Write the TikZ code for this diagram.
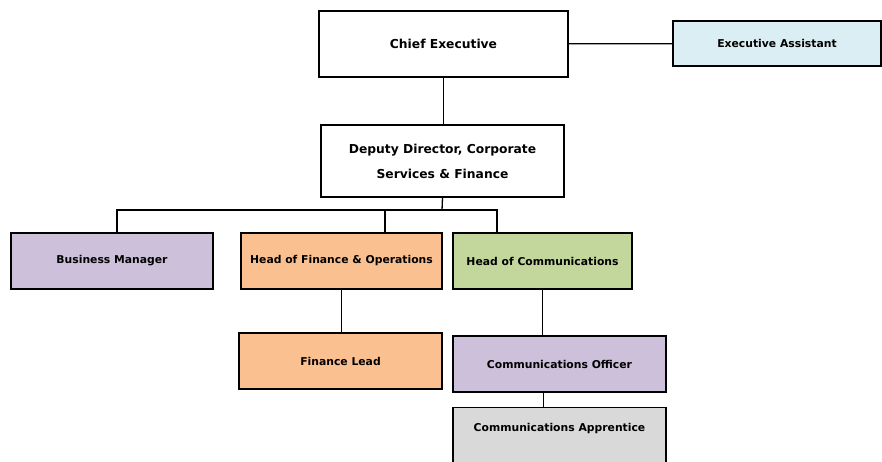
\documentclass[tikz,border=0pt]{standalone}
\usepackage{fontspec}
\setmainfont{DejaVu Sans}
\usetikzlibrary{positioning}

\definecolor{rolepurple}{HTML}{CCC0DA}
\definecolor{roleorange}{HTML}{FAC090}
\definecolor{rolegreen}{HTML}{C3D69B}
\definecolor{roleblue}{HTML}{DBEEF4}
\definecolor{rolegray}{HTML}{D9D9D9}

\begin{document}
\begin{tikzpicture}[
      x=1pt, y=-1pt,
      role/.style={
         rectangle,
         draw=black,
         line width=1.3pt,
         fill=white,
         inner sep=0pt,
         align=center,
         font=\bfseries\fontsize{10.8}{25}\selectfont},
      toprole/.style={role,font=\bfseries\fontsize{12.3}{25}\selectfont},
      link/.style={line width=1.3pt},
      ]
      \useasboundingbox (0,0) rectangle (882,461);

      \node[toprole,minimum width=249pt,minimum height=66pt] (ce) at (443.5,44) {Chief Executive};
      \node[role,fill=roleblue,minimum width=208pt,minimum height=45pt] (ea) at (777,43.5) {Executive Assistant};
      \node[toprole,minimum width=243pt,minimum height=72pt] (dd) at (442.5,161)
         {Deputy Director, Corporate\\Services \& Finance};
      \node[role,fill=rolepurple,minimum width=202pt,minimum height=56pt] (bm) at (112,261) {Business Manager};
      \node[role,fill=roleorange,minimum width=201pt,minimum height=56pt] (hfo) at (341.5,261) {Head of Finance \& Operations};
      \node[role,fill=rolegreen,minimum width=179pt,minimum height=56pt] (hc) at (542.5,261) {Head of Communications};
      \node[role,fill=roleorange,minimum width=203pt,minimum height=56pt] (fl) at (340.5,361) {Finance Lead};
      \node[role,fill=rolepurple,minimum width=213pt,minimum height=56pt] (co) at (559.5,364) {Communications Officer};
      % apprentice box runs off the bottom edge
      \node[role,fill=rolegray,minimum width=213pt,text height=24pt,text depth=32pt,anchor=north] (ca) at (559.5,407)
         {Communications Apprentice};

      \coordinate (bus) at (442,210);

      \draw[link] (ce) -- (ea);
      \draw[link] (ce.south) -- (dd.north -| ce.south);
      \draw[link] (dd.south) -- (bus);
      \draw[link] ([xshift=5pt]bm.north) |- (bus) -| ([xshift=-45.5pt]hc.north);
      \draw[link] ([xshift=43.5pt]hfo.north) -- ([xshift=43.5pt]hfo.north |- bus);
      \draw[link] (hfo.south) -- (hfo.south |- fl.north);
      \draw[link] (hc.south) -- (hc.south |- co.north);
      \draw[link] ([xshift=-16pt]co.south) -- ([xshift=-16pt]ca.north);
\end{tikzpicture}
\end{document}
